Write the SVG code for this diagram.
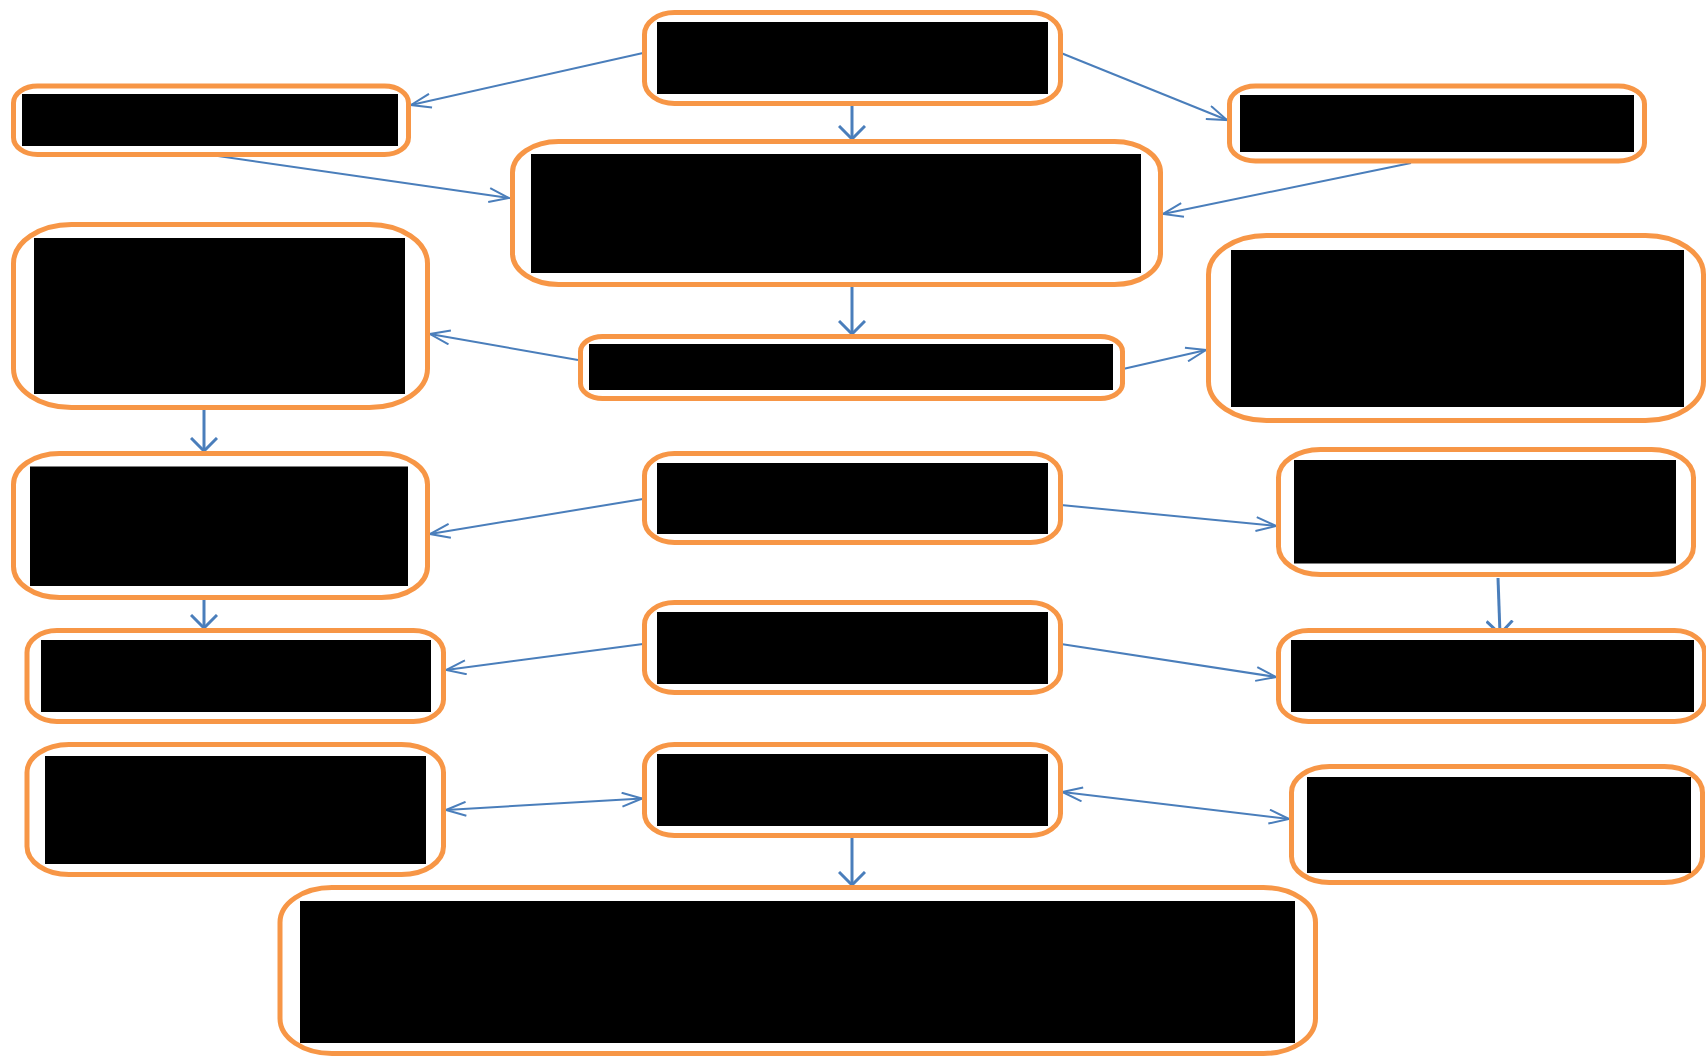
<svg xmlns="http://www.w3.org/2000/svg" width="1706" height="1057" viewBox="0 0 1706 1057">
<style>
.box{fill:#FFFFFF;stroke:#F79646;stroke-width:5}
.txt{fill:#000000}
.c{fill:none;stroke:#4A7EBB;stroke-width:2}
.cv{fill:none;stroke:#4A7EBB;stroke-width:3}
</style>
<defs>
<marker id="ah" viewBox="0 0 22 16" refX="21" refY="8" markerWidth="22" markerHeight="16" markerUnits="userSpaceOnUse" orient="auto-start-reverse">
<path d="M1,1 L21,8 L1,15" fill="none" stroke="#4A7EBB" stroke-width="2"/>
</marker>
<marker id="av" viewBox="0 0 16 28" refX="14" refY="14" markerWidth="16" markerHeight="28" markerUnits="userSpaceOnUse" orient="auto">
<path d="M1,1 L14,14 L1,27" fill="none" stroke="#4A7EBB" stroke-width="3"/>
</marker>
</defs>
<rect width="1706" height="1057" fill="#FFFFFF"/>
<g id="connectors">
<line class="c" x1="643" y1="53" x2="411" y2="105" marker-end="url(#ah)"/>
<line class="c" x1="218" y1="156" x2="509" y2="198" marker-end="url(#ah)"/>
<line class="cv" x1="852" y1="105" x2="852" y2="139" marker-end="url(#av)"/>
<line class="c" x1="1061" y1="53" x2="1227" y2="120" marker-end="url(#ah)"/>
<line class="c" x1="1411" y1="163" x2="1163" y2="214" marker-end="url(#ah)"/>
<line class="cv" x1="852" y1="287" x2="852" y2="334" marker-end="url(#av)"/>
<line class="c" x1="578" y1="360" x2="430" y2="334" marker-end="url(#ah)"/>
<line class="c" x1="1123" y1="369" x2="1206" y2="350" marker-end="url(#ah)"/>
<line class="cv" x1="204" y1="410" x2="204" y2="451" marker-end="url(#av)"/>
<line class="c" x1="643" y1="499" x2="430" y2="534" marker-end="url(#ah)"/>
<line class="c" x1="1061" y1="505" x2="1276" y2="526" marker-end="url(#ah)"/>
<line class="cv" x1="1498" y1="578" x2="1500" y2="634" marker-end="url(#av)"/>
<line class="cv" x1="204" y1="600" x2="204" y2="628" marker-end="url(#av)"/>
<line class="c" x1="643" y1="644" x2="446" y2="670" marker-end="url(#ah)"/>
<line class="c" x1="1061" y1="644" x2="1276" y2="677" marker-end="url(#ah)"/>
<line class="c" x1="446" y1="810" x2="642" y2="798.5" marker-start="url(#ah)" marker-end="url(#ah)"/>
<line class="c" x1="1062.5" y1="792" x2="1289" y2="819" marker-start="url(#ah)" marker-end="url(#ah)"/>
<line class="cv" x1="852" y1="838" x2="852" y2="885" marker-end="url(#av)"/>
</g>
<g id="n1"><rect class="box" x="644.5" y="12.5" width="416" height="91" rx="30" ry="22"/><rect class="txt" x="657" y="22" width="391" height="72"/></g>
<g id="n2"><rect class="box" x="13.5" y="86" width="395" height="68.5" rx="24" ry="17"/><rect class="txt" x="22" y="94" width="376" height="52"/></g>
<g id="n3"><rect class="box" x="1229.5" y="86" width="415" height="75" rx="26" ry="18"/><rect class="txt" x="1240" y="95" width="394" height="57"/></g>
<g id="n4"><rect class="box" x="512.5" y="141.5" width="648" height="143" rx="46" ry="31"/><rect class="txt" x="531" y="154" width="610" height="119"/></g>
<g id="n5"><rect class="box" x="13.5" y="224.5" width="414" height="183" rx="58" ry="39"/><rect class="txt" x="34" y="238" width="371" height="156"/></g>
<g id="n6"><rect class="box" x="580.5" y="336.5" width="542" height="62" rx="22" ry="15"/><rect class="txt" x="589" y="344" width="524" height="46"/></g>
<g id="n7"><rect class="box" x="1208.5" y="235.5" width="495" height="185" rx="58" ry="39"/><rect class="txt" x="1231" y="250" width="453" height="157"/></g>
<g id="n8"><rect class="box" x="13.5" y="453.5" width="414" height="144" rx="46" ry="31"/><rect class="txt" x="30" y="466.5" width="378" height="119.5"/></g>
<g id="n9"><rect class="box" x="644.5" y="453.5" width="416" height="89" rx="30" ry="22"/><rect class="txt" x="657" y="463" width="391" height="71"/></g>
<g id="n10"><rect class="box" x="1278.5" y="449.5" width="415" height="125" rx="42" ry="28"/><rect class="txt" x="1294" y="460" width="382" height="103.5"/></g>
<g id="n11"><rect class="box" x="27" y="630.5" width="416.5" height="91" rx="30" ry="22"/><rect class="txt" x="41" y="640" width="390" height="72"/></g>
<g id="n12"><rect class="box" x="644.5" y="602.5" width="416" height="90" rx="30" ry="22"/><rect class="txt" x="657" y="612" width="391" height="72"/></g>
<g id="n13"><rect class="box" x="1278.5" y="630.5" width="426" height="91" rx="30" ry="22"/><rect class="txt" x="1291" y="640" width="403" height="72"/></g>
<g id="n14"><rect class="box" x="27" y="744.5" width="416.5" height="130" rx="42" ry="28"/><rect class="txt" x="45" y="756" width="381" height="108"/></g>
<g id="n15"><rect class="box" x="644.5" y="744.5" width="416" height="91" rx="30" ry="22"/><rect class="txt" x="657" y="754" width="391" height="72"/></g>
<g id="n16"><rect class="box" x="1291.5" y="766.5" width="411" height="116" rx="38" ry="26"/><rect class="txt" x="1307" y="777" width="384" height="96"/></g>
<g id="n17"><rect class="box" x="280" y="887.5" width="1035.5" height="166" rx="52" ry="35"/><rect class="txt" x="300" y="901" width="995" height="142"/></g>
</svg>
